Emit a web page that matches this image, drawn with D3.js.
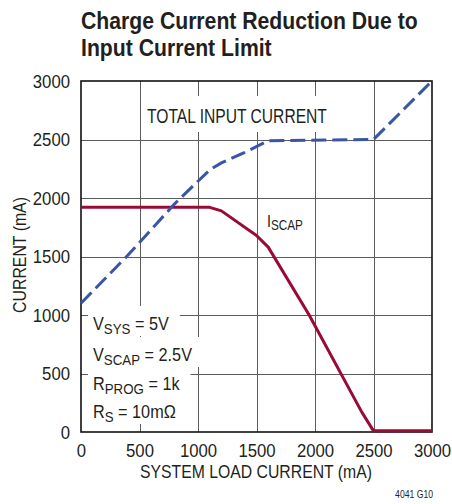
<!DOCTYPE html>
<html><head><meta charset="utf-8">
<script src="https://cdn.jsdelivr.net/npm/d3@7"></script>
<style>body{margin:0;background:#fff} svg{display:block}</style>
</head><body>
<script>
// ---- data ----
const xTicks = [0, 500, 1000, 1500, 2000, 2500, 3000];
const yTicks = [0, 500, 1000, 1500, 2000, 2500, 3000];
const totalLoad = [0, 400, 800, 1100, 1200, 1400, 1600, 2500, 3000];
const totalInput = [1100, 1510, 1950, 2240, 2300, 2390, 2490, 2500, 3000];
const iscapLoad = [0, 1100, 1200, 1500, 1600, 1950, 2400, 2500, 3000];
const iscapCurrent = [1920, 1920, 1890, 1680, 1580, 1000, 170, 10, 10];
const titleLines = ["Charge Current Reduction Due to", "Input Current Limit"];
const xLabel = "SYSTEM LOAD CURRENT (mA)";
const yLabel = "CURRENT (mA)";
const totalLabel = "TOTAL INPUT CURRENT";
const iscapLabel = ["I", "SCAP"];
const conditions = [["V", "SYS", " = 5V"], ["V", "SCAP", " = 2.5V"], ["R", "PROG", " = 1k"], ["R", "S", " = 10mΩ"]];
const figId = "4041 G10";

// ---- setup ----
const W = 452, H = 504;
const FONT = "'Liberation Sans', Arial, sans-serif";
const TXT = "#231f20";
const svg = d3.select("body").append("svg").attr("width", W).attr("height", H)
  .style("font-family", FONT);

const x = d3.scaleLinear().domain([0, 3000]).range([81, 432]);
const y = d3.scaleLinear().domain([0, 3000]).range([432, 81]);

// text helper: positioned group, horizontally condensed
function makeText(parent, px, py, opt) {
  const g = parent.append("g").attr("transform", `translate(${px},${py})${opt.rotate ? ` rotate(${opt.rotate})` : ""}`);
  const inner = g.append("g");
  const t = inner.append("text")
    .attr("text-anchor", opt.anchor || "start")
    .attr("font-size", opt.size)
    .attr("font-weight", opt.weight || "normal")
    .attr("fill", opt.fill || TXT);
  if (opt.parts) {
    opt.parts.forEach((p, i) => {
      const ts = t.append("tspan").text(p);
      if (i === 1) ts.attr("font-size", opt.size * 0.82).attr("dy", opt.size * 0.2);
      if (i === 2) ts.attr("dy", -opt.size * 0.2);
    });
  } else t.text(opt.text);
  let sx = opt.sx || 1;
  if (opt.width) sx = opt.width / t.node().getComputedTextLength();
  inner.attr("transform", `scale(${sx},1)`);
  return {t, sx, g, w: t.node().getComputedTextLength() * sx};
}

// ---- grid ----
const grid = svg.append("g").attr("stroke", "#5c5c5c").attr("stroke-width", 1);
grid.selectAll("line.v").data(xTicks.slice(1, -1)).join("line").attr("class", "v")
  .attr("x1", d => Math.round(x(d)) + 0.5).attr("x2", d => Math.round(x(d)) + 0.5)
  .attr("y1", y(3000)).attr("y2", y(0));
grid.selectAll("line.h").data(yTicks.slice(1, -1)).join("line").attr("class", "h")
  .attr("y1", d => Math.round(y(d)) + 0.5).attr("y2", d => Math.round(y(d)) + 0.5)
  .attr("x1", x(0)).attr("x2", x(3000));

const bgLayer = svg.append("g").attr("fill", "#fff");
const frameLayer = svg.append("g");
const lineLayer = svg.append("g");
const labelLayer = svg.append("g");

// ---- in-plot labels with white backgrounds ----
const tl = makeText(labelLayer, 147, 123, {text: totalLabel, size: 20, width: 180});
bgLayer.append("rect").attr("x", 143).attr("y", 96).attr("width", tl.w + 8).attr("height", 36);

const condBase = [330, 361, 390, 418];
let condSx = null;
// determine condensation from the widest line
{
  const probe = makeText(labelLayer, 0, -100, {parts: conditions[1], size: 18, width: 99});
  condSx = probe.sx; probe.g.remove();
}
conditions.forEach((c, i) => {
  const r = makeText(labelLayer, 93, condBase[i], {parts: c, size: 18, sx: condSx});
  bgLayer.append("rect").attr("x", 88).attr("y", condBase[i] - 24)
    .attr("width", r.w + 16).attr("height", 30);
});

makeText(labelLayer, 267, 226.5, {parts: iscapLabel, size: 17, width: 36});

// ---- frame ----
frameLayer.append("rect").attr("x", x(0)).attr("y", y(3000))
  .attr("width", x(3000) - x(0)).attr("height", y(0) - y(3000))
  .attr("fill", "none").attr("stroke", "#111").attr("stroke-width", 1.6);

// ---- series ----
const lineGen = d3.line().x(d => x(d[0])).y(d => y(d[1]));
lineLayer.append("path")
  .attr("d", lineGen(iscapLoad.map((v, i) => [v, iscapCurrent[i]])))
  .attr("fill", "none").attr("stroke", "#990a34").attr("stroke-width", 3)
  .attr("stroke-linejoin", "round");
lineLayer.append("path")
  .attr("d", lineGen(totalLoad.map((v, i) => [v, totalInput[i]])))
  .attr("fill", "none").attr("stroke", "#3a55a6").attr("stroke-width", 3)
  .attr("stroke-dasharray", "15,6");

// ---- axes tick labels ----
const tickSx = 0.93;
const xAxis = d3.axisBottom(x).tickValues(xTicks).tickSize(0).tickPadding(0).tickFormat(d3.format("d"));
const yAxis = d3.axisLeft(y).tickValues(yTicks).tickSize(0).tickPadding(0).tickFormat(d3.format("d"));
const gx = svg.append("g").attr("transform", `translate(0,${y(0)})`).call(xAxis);
const gy = svg.append("g").attr("transform", `translate(${x(0)},0)`).call(yAxis);
[gx, gy].forEach(g => { g.select(".domain").remove(); g.selectAll("line").remove(); });
gx.selectAll(".tick text").attr("font-size", 18).attr("font-family", FONT).attr("fill", TXT)
  .attr("dy", null).attr("y", 25).attr("transform", `scale(${tickSx},1)`);
gy.selectAll(".tick text").attr("font-size", 18).attr("font-family", FONT).attr("fill", TXT)
  .attr("x", -11 / tickSx).attr("dy", "0.36em").attr("transform", `scale(${tickSx},1)`);

// ---- axis titles ----
makeText(svg, 256, 478, {text: xLabel, size: 19, anchor: "middle", width: 232});
makeText(svg, 26, 255, {text: yLabel, size: 19, anchor: "middle", width: 116, rotate: -90});

// ---- title ----
const t1 = makeText(svg, 81, 29, {text: titleLines[0], size: 24, weight: "bold", width: 337});
makeText(svg, 81, 55.5, {text: titleLines[1], size: 24, weight: "bold", sx: t1.sx});

// ---- figure id ----
makeText(svg, 433, 498, {text: figId, size: 10, anchor: "end", width: 38});
</script>
</body></html>
